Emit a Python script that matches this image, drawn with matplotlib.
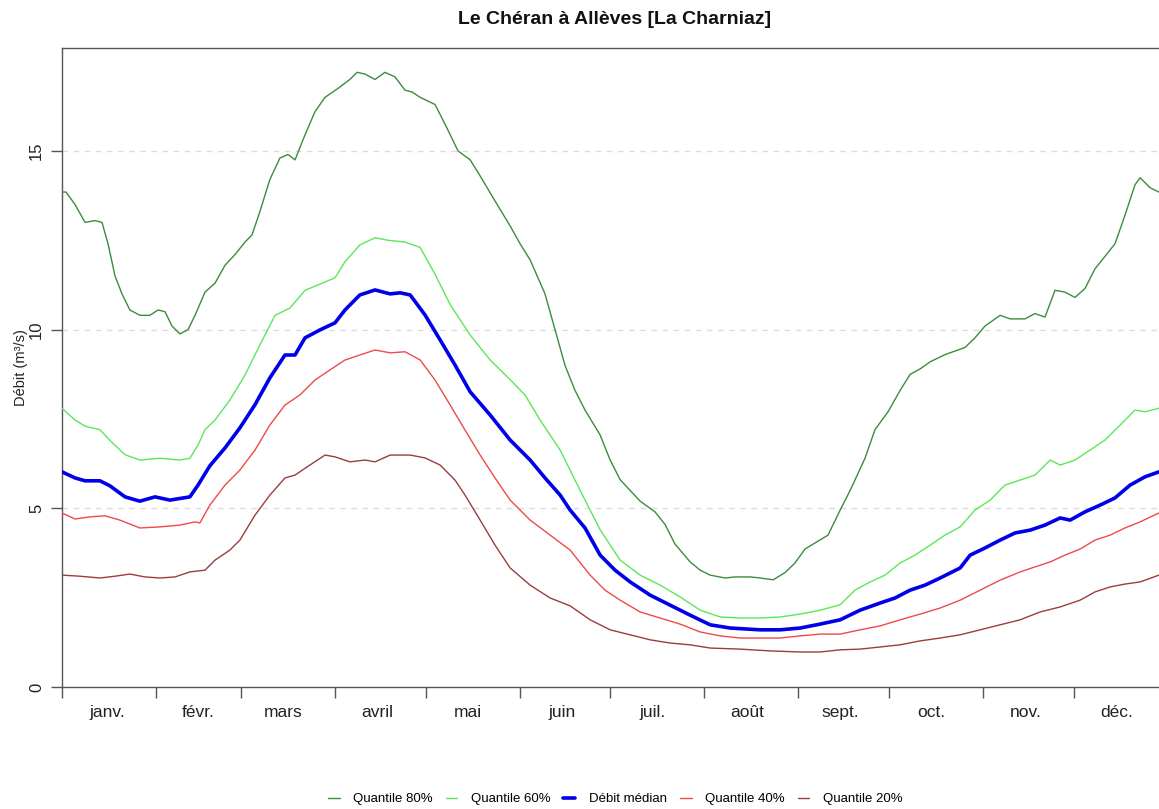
import numpy as np
import matplotlib
matplotlib.use("Agg")
import matplotlib.pyplot as plt
from matplotlib.ticker import FixedLocator, NullFormatter, FixedFormatter

plt.rcParams['font.family'] = ['Liberation Sans', 'DejaVu Sans']

# day of year (0 = 1 janv.) and discharge in m3/s
q80_days = [0, 1.3, 4.3, 7.6, 10.9, 13.2, 15.2, 17.5, 19.8, 22.4, 25.7, 29.0, 31.7, 34.0, 36.3,
            38.9, 41.6, 43.9, 47.2, 50.5, 53.8, 57.1, 60.4, 62.7, 65.3, 68.6, 71.9, 74.6, 76.9,
            80.2, 83.5, 86.8, 91.1, 95.0, 97.4, 100.0, 103.3, 106.6, 109.9, 113.2, 115.5, 118.2,
            123.1, 126.4, 130.7, 134.7, 138.0, 142.9, 147.9, 151.2, 154.5, 159.4, 162.7, 166.0,
            169.3, 172.6, 177.6, 180.9, 184.2, 187.5, 190.8, 195.7, 199.0, 202.3, 207.3, 210.6,
            213.9, 218.8, 222.1, 227.1, 230.4, 234.7, 238.6, 241.9, 245.2, 248.5, 252.8, 256.8,
            260.1, 265.0, 268.3, 272.6, 276.6, 279.9, 283.2, 286.5, 291.4, 298.0, 301.3, 304.6,
            309.6, 312.9, 317.8, 321.1, 324.4, 327.7, 331.0, 334.3, 337.6, 340.9, 344.2, 347.5,
            350.8, 354.1, 355.8, 359.1, 362.0]
q80_vals = [13.85, 13.85, 13.5, 13.0, 13.05, 13.0, 12.4, 11.5, 11.0, 10.55, 10.4, 10.4, 10.55, 10.5, 10.1,
            9.88, 10.0, 10.4, 11.05, 11.3, 11.8, 12.1, 12.45, 12.65, 13.3, 14.2, 14.8, 14.9, 14.75,
            15.45, 16.1, 16.5, 16.75, 17.0, 17.2, 17.15, 17.0, 17.2, 17.07, 16.7, 16.65, 16.5,
            16.3, 15.75, 15.0, 14.75, 14.3, 13.6, 12.9, 12.4, 11.95, 11.0, 10.0, 9.0,
            8.3, 7.75, 7.05, 6.35, 5.8, 5.5, 5.2, 4.9, 4.55, 4.0, 3.5, 3.27,
            3.13, 3.05, 3.08, 3.08, 3.05, 3.0, 3.2, 3.47, 3.86, 4.03, 4.25, 4.95,
            5.5, 6.4, 7.2, 7.7, 8.3, 8.75, 8.9, 9.1, 9.3, 9.5, 9.77, 10.1,
            10.4, 10.3, 10.3, 10.45, 10.35, 11.1, 11.05, 10.9, 11.15, 11.7, 12.05, 12.4,
            13.2, 14.05, 14.25, 13.97, 13.85]

q60_days = [0, 4.3, 7.6, 12.5, 15.8, 20.8, 25.7, 32.3, 38.9, 42.2, 44.9, 47.2, 50.5, 55.4, 60.4,
            65.3, 70.3, 75.2, 80.2, 84.5, 90.1, 93.4, 98.3, 103.3, 107.6, 113.2, 118.2, 123.1,
            128.1, 134.7, 141.3, 147.9, 152.8, 157.8, 164.4, 171.0, 177.6, 184.2, 190.8, 197.4,
            204.0, 210.6, 217.2, 223.8, 230.4, 237.0, 243.6, 250.2, 256.8, 261.7, 266.7, 271.6,
            276.6, 281.5, 286.5, 291.4, 296.4, 301.3, 306.3, 311.2, 316.2, 321.1, 326.1, 329.4,
            334.3, 339.3, 344.2, 349.2, 354.1, 357.4, 362.0]
q60_vals = [7.8, 7.47, 7.3, 7.2, 6.9, 6.5, 6.35, 6.4, 6.35, 6.4, 6.77, 7.2, 7.47, 8.03, 8.73,
            9.57, 10.4, 10.6, 11.1, 11.25, 11.45, 11.9, 12.37, 12.57, 12.5, 12.45, 12.3, 11.55,
            10.7, 9.85, 9.15, 8.6, 8.17, 7.47, 6.63, 5.5, 4.4, 3.55, 3.13, 2.85,
            2.52, 2.15, 1.96, 1.93, 1.93, 1.96, 2.04, 2.15, 2.3, 2.71, 2.94, 3.13,
            3.47, 3.69, 3.97, 4.25, 4.48, 4.95, 5.23, 5.65, 5.79, 5.93, 6.35, 6.21,
            6.35, 6.63, 6.91, 7.33, 7.75, 7.7, 7.8]

med_days = [0, 4.3, 7.6, 12.5, 15.8, 20.8, 25.7, 30.7, 35.6, 42.2, 44.9, 48.8, 53.8, 58.7, 63.7,
            68.6, 73.6, 76.9, 80.2, 85.1, 90.1, 93.4, 98.3, 103.3, 108.3, 111.6, 114.9, 119.8,
            124.8, 129.7, 134.7, 141.3, 147.9, 154.5, 159.4, 164.4, 167.7, 172.6, 177.6, 182.5,
            187.5, 194.1, 200.7, 207.3, 213.9, 220.5, 230.4, 237.0, 243.6, 250.2, 256.8, 263.4,
            270.0, 274.9, 279.9, 284.8, 289.8, 296.4, 299.7, 304.6, 309.6, 314.5, 319.5, 324.4,
            329.4, 332.7, 337.6, 342.6, 347.5, 352.5, 357.4, 362.0]
med_vals = [6.02, 5.85, 5.77, 5.77, 5.63, 5.32, 5.2, 5.32, 5.23, 5.32, 5.65, 6.19, 6.69, 7.25, 7.9,
            8.65, 9.29, 9.29, 9.77, 9.99, 10.19, 10.55, 10.97, 11.11, 11.0, 11.03, 10.97, 10.41,
            9.71, 9.01, 8.26, 7.61, 6.91, 6.35, 5.85, 5.37, 4.95, 4.45, 3.69, 3.27,
            2.94, 2.57, 2.29, 2.01, 1.74, 1.65, 1.6, 1.6, 1.65, 1.76, 1.88, 2.15,
            2.35, 2.49, 2.71, 2.85, 3.05, 3.33, 3.69, 3.89, 4.11, 4.31, 4.39, 4.53,
            4.73, 4.67, 4.9, 5.09, 5.29, 5.65, 5.88, 6.02]

q40_days = [0, 4.3, 9.2, 14.2, 19.1, 25.7, 32.3, 38.9, 43.9, 45.5, 48.8, 53.8, 58.7, 63.7,
            68.6, 73.6, 78.5, 83.5, 88.4, 93.4, 98.3, 103.3, 108.3, 113.2, 118.2, 123.1, 128.1,
            133.0, 138.0, 142.9, 147.9, 154.5, 161.1, 167.7, 174.3, 179.2, 184.2, 190.8, 197.4,
            204.0, 210.6, 217.2, 223.8, 230.4, 237.0, 243.6, 250.2, 256.8, 263.4, 270.0, 276.6,
            283.2, 289.8, 296.4, 303.0, 309.6, 316.2, 321.1, 326.1, 331.0, 336.0, 340.9, 345.9,
            350.8, 355.8, 362.0]
q40_vals = [4.87, 4.7, 4.76, 4.79, 4.67, 4.45, 4.48, 4.53, 4.62, 4.59, 5.09, 5.65, 6.07, 6.63,
            7.33, 7.89, 8.17, 8.59, 8.87, 9.15, 9.29, 9.43, 9.35, 9.38, 9.15, 8.59, 7.89,
            7.19, 6.49, 5.85, 5.23, 4.67, 4.25, 3.83, 3.13, 2.71, 2.43, 2.1, 1.93,
            1.76, 1.54, 1.43, 1.37, 1.37, 1.37, 1.43, 1.48, 1.48, 1.6, 1.71, 1.88,
            2.04, 2.21, 2.43, 2.71, 2.99, 3.22, 3.36, 3.5, 3.69, 3.86, 4.11, 4.25,
            4.45, 4.62, 4.87]

q20_days = [0, 5.9, 12.5, 17.5, 22.4, 27.4, 32.3, 37.3, 42.2, 47.2, 50.5, 55.4, 58.7, 63.7,
            68.6, 73.6, 76.9, 81.8, 86.8, 90.1, 95.0, 100.0, 103.3, 108.3, 114.9, 119.8, 124.8,
            129.7, 133.0, 138.0, 142.9, 147.9, 154.5, 161.1, 167.7, 174.3, 180.9, 187.5, 194.1,
            200.7, 207.3, 213.9, 223.8, 233.7, 243.6, 250.2, 256.8, 263.4, 270.0, 276.6, 283.2,
            289.8, 296.4, 303.0, 309.6, 316.2, 322.8, 329.4, 336.0, 340.9, 345.9, 350.8, 355.8, 362.0]
q20_vals = [3.13, 3.1, 3.05, 3.1, 3.16, 3.08, 3.05, 3.08, 3.22, 3.27, 3.55, 3.83, 4.11, 4.81,
            5.37, 5.85, 5.93, 6.21, 6.49, 6.44, 6.3, 6.35, 6.3, 6.49, 6.49, 6.41, 6.21,
            5.79, 5.37, 4.67, 3.97, 3.33, 2.85, 2.49, 2.27, 1.88, 1.6, 1.46, 1.32,
            1.23, 1.18, 1.09, 1.06, 1.01, 0.98, 0.98, 1.04, 1.06, 1.12, 1.18, 1.29,
            1.37, 1.46, 1.6, 1.74, 1.88, 2.1, 2.24, 2.43, 2.66, 2.8, 2.88, 2.94, 3.13]

month_starts = [0, 31, 59, 90, 120, 151, 181, 212, 243, 273, 304, 334]
month_mids = [15, 45, 73, 104, 134, 165, 195, 226, 257, 287, 318, 348]
month_labels = ['janv.', 'févr.', 'mars', 'avril', 'mai', 'juin', 'juil.', 'août',
                'sept.', 'oct.', 'nov.', 'déc.']

fig = plt.figure(figsize=(11.59, 8.09), dpi=100)
# right edge of the box falls just outside the picture, as in the original
ax = fig.add_axes([62 / 1159, (809 - 687) / 809, (1168 - 62) / 1159, (687 - 48) / 809])

for yv in [5, 10, 15]:
    ax.axhline(yv, color='#dcdcdc', lw=1.0, ls=(0, (4, 4)), zorder=1)

kw = dict(solid_joinstyle='round', solid_capstyle='round')
ax.plot(q80_days, q80_vals, color='#3d8b3d', lw=1.0, label='Quantile 80%', zorder=3, **kw)
ax.plot(q60_days, q60_vals, color='#5ae85a', lw=1.0, label='Quantile 60%', zorder=3, **kw)
ax.plot(med_days, med_vals, color='#0000e8', lw=2.6, label='Débit médian', zorder=4, **kw)
ax.plot(q40_days, q40_vals, color='#ee4a4a', lw=1.0, label='Quantile 40%', zorder=3, **kw)
ax.plot(q20_days, q20_vals, color='#9c3c3c', lw=1.0, label='Quantile 20%', zorder=3, **kw)

ax.set_xlim(0, 365)
ax.set_ylim(0, 17.88)

ax.xaxis.set_major_locator(FixedLocator(month_starts))
ax.xaxis.set_major_formatter(NullFormatter())
ax.xaxis.set_minor_locator(FixedLocator(month_mids))
ax.xaxis.set_minor_formatter(FixedFormatter(month_labels))
ax.tick_params(axis='x', which='major', length=8, width=1, color='#555555', direction='out')
ax.tick_params(axis='x', which='minor', length=0, pad=13, labelsize=12.5, labelcolor='#222222')

ax.set_yticks([0, 5, 10, 15])
ax.set_yticklabels(['0', '5', '10', '15'], rotation=90, va='center')
ax.tick_params(axis='y', length=8, width=1, color='#555555', labelsize=12,
               labelcolor='#222222', pad=5)
ax.set_ylabel('Débit (m³/s)', fontsize=10.5, color='#222222', labelpad=1)

for s in ['left', 'bottom', 'top', 'right']:
    ax.spines[s].set_color('#555555')
    ax.spines[s].set_linewidth(1.0)

fig.text(615 / 1159, 1 - 20 / 809, 'Le Chéran à Allèves [La Charniaz]', ha='center', va='center',
         fontsize=14, fontweight='bold', color='#111111')

fig.legend(loc='center', bbox_to_anchor=(615 / 1159, 1 - 799 / 809), ncol=5, frameon=False,
           fontsize=9.5, handlelength=0.9, columnspacing=1.0, handletextpad=1.0)

fig.savefig('out.png', dpi=100)
